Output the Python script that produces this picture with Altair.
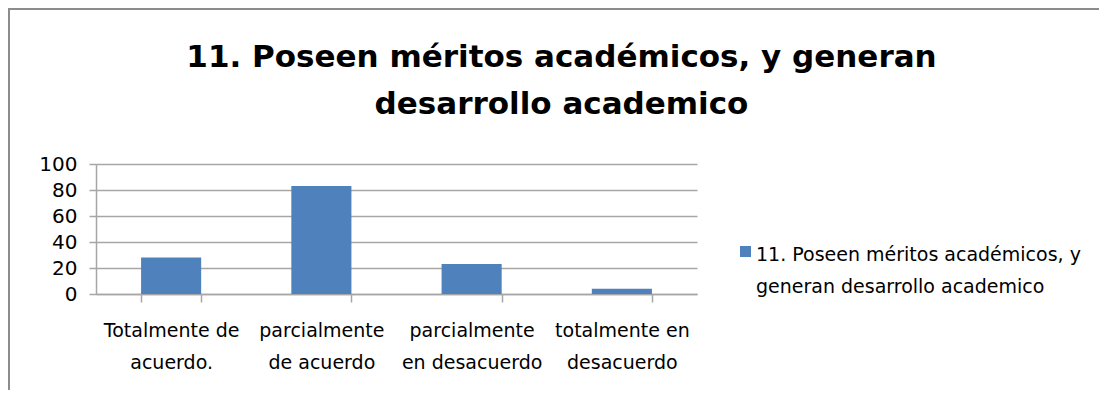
import altair as alt
import pandas as pd

categories = ["Totalmente de\nacuerdo.", "parcialmente\nde acuerdo", "parcialmente\nen desacuerdo", "totalmente en\ndesacuerdo"]
values = [28, 83, 23, 4]
title_lines = ["11. Poseen méritos académicos, y generan", "desarrollo academico"]
legend_lines = ["11. Poseen méritos académicos, y", "generan desarrollo academico"]
series_name = " ".join(legend_lines)
y_ticks = [0, 20, 40, 60, 80, 100]

df = pd.DataFrame({"cat": categories, "val": values, "serie": series_name})

FONT = "DejaVu Sans"
GRID = "#a6a6a6"

bars = alt.Chart(df).mark_bar(color="#4F81BD").encode(
    x=alt.X("cat:N", sort=categories, title=None,
            scale=alt.Scale(paddingInner=0.6, paddingOuter=0.3),
            axis=alt.Axis(labelAngle=0, labelExpr="split(datum.label, '\\n')",
                          labelFont=FONT, labelFontSize=19, labelColor="#000000",
                          labelLineHeight=32, labelBaseline="top", labelPadding=19,
                          tickBand="extent", tickSize=8, tickColor=GRID, tickWidth=1.5,
                          domainColor=GRID, domainWidth=1.5, labelLimit=300)),
    y=alt.Y("val:Q", title=None, scale=alt.Scale(domain=[0, 100], nice=False),
            axis=alt.Axis(values=y_ticks, labelFont=FONT, labelFontSize=20, labelColor="#000000",
                          labelPadding=12, tickSize=7, tickColor=GRID, tickWidth=1.5,
                          domainColor=GRID, domainWidth=1.5,
                          grid=True, gridColor=GRID, gridWidth=1.5)),
    color=alt.Color("serie:N", title=legend_lines,
                    scale=alt.Scale(range=["#4F81BD"]),
                    legend=alt.Legend(orient="none", legendX=644, legendY=82,
                                      symbolType="square", symbolSize=121,
                                      symbolStrokeWidth=0, symbolOffset=0,
                                      labelExpr="''", labelFontSize=1, labelOffset=0,
                                      titleOrient="right", titlePadding=5,
                                      titleFont=FONT, titleFontSize=19, titleFontWeight="normal",
                                      titleColor="#000000", titleLineHeight=32,
                                      titleBaseline="top", titleAnchor="start",
                                      titleLimit=600)),
)

frame_v = alt.Chart(df).mark_rule(color="#8c8c8c", strokeWidth=2).encode(
    x=alt.value(-87), y=alt.value(-156), y2=alt.value(230))
frame_h = alt.Chart(df).mark_rule(color="#8c8c8c", strokeWidth=2).encode(
    x=alt.value(-88), x2=alt.value(1003), y=alt.value(-155))

chart = alt.layer(frame_v, frame_h, bars).properties(
    width=601, height=130,
    padding={"left": 88, "top": 156, "right": 402, "bottom": 96},
    autosize=alt.AutoSizeParams(type="none"),
    title=alt.TitleParams(text=title_lines, font=FONT, fontSize=31, fontWeight="bold",
                          color="#000000", lineHeight=47, anchor="middle", dx=165,
                          baseline="top", offset=0, dy=114),
).configure_view(stroke=None)

chart.save("out.html", embed_options={"renderer": "svg", "actions": False})
